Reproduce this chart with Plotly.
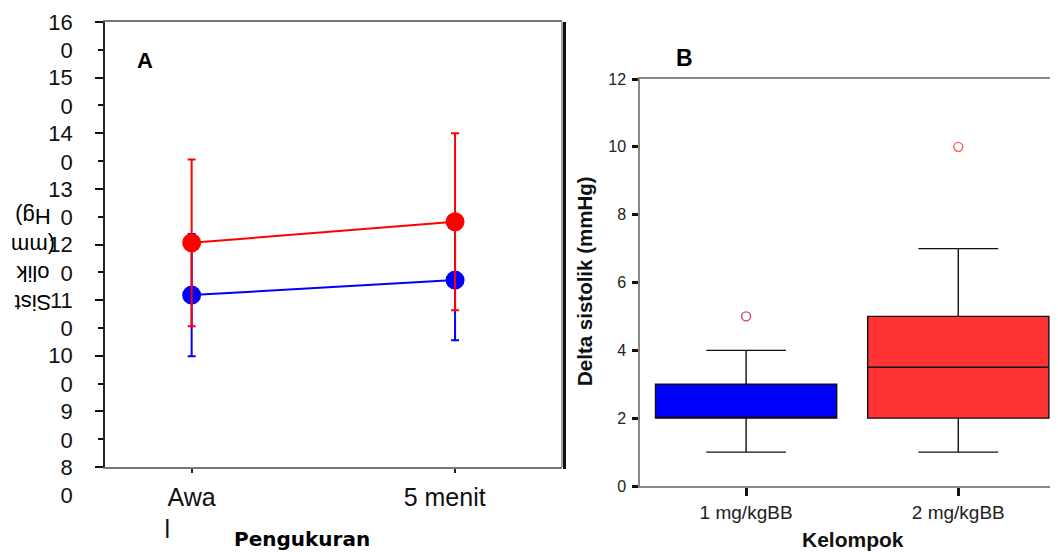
import plotly.graph_objects as go

# ---------------- Panel A data ----------------
measure_labels = ["Awal", "5 menit"]
blue_mean = [110.9, 113.6]
blue_err = [11.0, 10.8]
red_mean = [120.3, 124.1]
red_err = [15.0, 15.9]
y_major_vals = [80, 90, 100, 110, 120, 130, 140, 150, 160]
y_minor_vals = [85, 95, 105, 115, 125, 135, 145, 155]

# ---------------- Panel B data ----------------
group_labels = ["1 mg/kgBB", "2 mg/kgBB"]
box_q1 = [2, 2]
box_median = [2, 3.5]
box_q3 = [3, 5]
box_low = [1, 1]
box_high = [4, 7]
box_outliers = [[5], [10]]
box_colors = ["#0000ff", "#ff3333"]
outlier_colors = ["#d2407a", "#ff5a5a"]
yb_ticks = [0, 2, 4, 6, 8, 10, 12]

FONT = "Liberation Sans"
NB = "\u00a0"

fig = go.Figure()

xa_pos = [0, 1]
# blue series
fig.add_trace(go.Scatter(
    x=xa_pos, y=blue_mean, mode="lines+markers",
    line=dict(color="#0000ff", width=2),
    marker=dict(color="#0000ff", size=19),
    error_y=dict(type="data", array=blue_err, color="#0000ff", thickness=2, width=4),
    xaxis="x", yaxis="y", showlegend=False))
# red series
fig.add_trace(go.Scatter(
    x=xa_pos, y=red_mean, mode="lines+markers",
    line=dict(color="#ff0000", width=2),
    marker=dict(color="#ff0000", size=19),
    error_y=dict(type="data", array=red_err, color="#ff0000", thickness=2, width=4),
    xaxis="x", yaxis="y", showlegend=False))

# boxes
for i in range(2):
    fig.add_trace(go.Box(
        x=[i], q1=[box_q1[i]], median=[box_median[i]], q3=[box_q3[i]],
        lowerfence=[box_low[i]], upperfence=[box_high[i]],
        width=0.854, whiskerwidth=0.44,
        fillcolor=box_colors[i], line=dict(color="#111111", width=1.4),
        boxpoints=False, xaxis="x2", yaxis="y2", showlegend=False, hoverinfo="skip"))
    fig.add_trace(go.Scatter(
        x=[i] * len(box_outliers[i]), y=box_outliers[i], mode="markers",
        marker=dict(symbol="circle-open", size=9, color=outlier_colors[i], line=dict(width=1.4)),
        xaxis="x2", yaxis="y2", showlegend=False))

# page body has an 8px margin: build figure in page coordinates minus 8px
OFF = 8
W, H = 1058 - OFF, 552 - OFF
def px(x): return (x - OFF) / W
def py(y): return 1 - (y - OFF) / H

y_ticktext = []
for v in y_major_vals:
    s = str(v)
    y_ticktext.append(NB + "<br>" + s[:-1] + "<br>" + s[-1])

def ann(text, x, y, size, family=FONT, angle=0, color="black"):
    return dict(text=text, x=px(x), y=py(y), xref="paper", yref="paper",
                xanchor="center", yanchor="middle", showarrow=False, textangle=angle,
                font=dict(size=size, family=family, color=color))

fig.update_layout(
    width=W, height=H,
    margin=dict(l=0, r=0, t=0, b=0, autoexpand=False),
    paper_bgcolor="white", plot_bgcolor="rgba(0,0,0,0)",
    font=dict(family=FONT, color="black"),
    xaxis=dict(
        domain=[px(105), px(562)], range=[-0.329, 1.406],
        tickmode="array", tickvals=xa_pos,
        ticktext=["Awa<br>l" + NB * 7, "5 menit" + NB * 3],
        ticks="outside", ticklen=4, tickwidth=1.5, tickcolor="#222",
        tickfont=dict(size=25, family=FONT, color="#111"),
        ticklabelstandoff=3, ticklabeloverflow="allow", automargin=False,
        showline=True, linecolor="#777", linewidth=1.5, mirror=True,
        showgrid=False, zeroline=False, anchor="y"),
    yaxis=dict(
        domain=[py(467), py(22)], range=[80, 160],
        tickmode="array", tickvals=y_major_vals, ticktext=y_ticktext,
        ticks="outside", ticklen=8, tickwidth=2, tickcolor="#111",
        minor=dict(tickmode="array", tickvals=y_minor_vals, ticks="outside",
                   ticklen=5, tickwidth=1.5, tickcolor="#111", showgrid=False),
        tickfont=dict(size=22, family=FONT, color="#111"),
        ticklabelstandoff=18, ticklabeloverflow="allow", automargin=False,
        showline=True, linecolor="#222", linewidth=1.5,
        showgrid=False, zeroline=False, anchor="x"),
    xaxis2=dict(
        domain=[px(640), 1.0], range=[-0.5, 1.47],
        tickmode="array", tickvals=[0, 1], ticktext=group_labels,
        ticks="outside", ticklen=8, tickwidth=3, tickcolor="#111",
        tickfont=dict(size=19, family=FONT, color="#222"),
        ticklabelstandoff=0, ticklabeloverflow="allow", automargin=False,
        showline=True, linecolor="#888", linewidth=1.5, mirror=True,
        showgrid=False, zeroline=False, anchor="y2"),
    yaxis2=dict(
        domain=[py(486), py(79)], range=[0, 12],
        tickmode="array", tickvals=yb_ticks,
        ticks="outside", ticklen=6, tickwidth=3, tickcolor="#111",
        tickfont=dict(size=16, family=FONT, color="#222"),
        ticklabelstandoff=3, ticklabeloverflow="allow", automargin=False,
        showline=True, linecolor="#888", linewidth=1.5,
        showgrid=False, zeroline=False, anchor="x2"),
    shapes=[
        dict(type="line", xref="paper", yref="paper", x0=px(562), x1=px(562),
             y0=py(467), y1=py(22), line=dict(color="#888", width=1.5)),
        dict(type="line", xref="paper", yref="paper", x0=px(564.5), x1=px(564.5),
             y0=py(469), y1=py(22), line=dict(color="#111", width=3)),
    ],
    annotations=[
        ann("<b>A</b>", 145, 60, 22),
        ann("<b>B</b>", 684, 58, 23),
        ann("Sist<br>olik<br>(mm<br>Hg)", 33, 260, 22, angle=180),
        ann("<b>Pengukuran</b>", 302, 539, 20, family="DejaVu Sans"),
        ann("<b>Delta sistolik (mmHg)</b>", 584, 281, 20.5, angle=-90, color="#111"),
        ann("<b>Kelompok</b>", 853, 539, 21, color="#111"),
    ],
)

fig.write_html("out.html")
